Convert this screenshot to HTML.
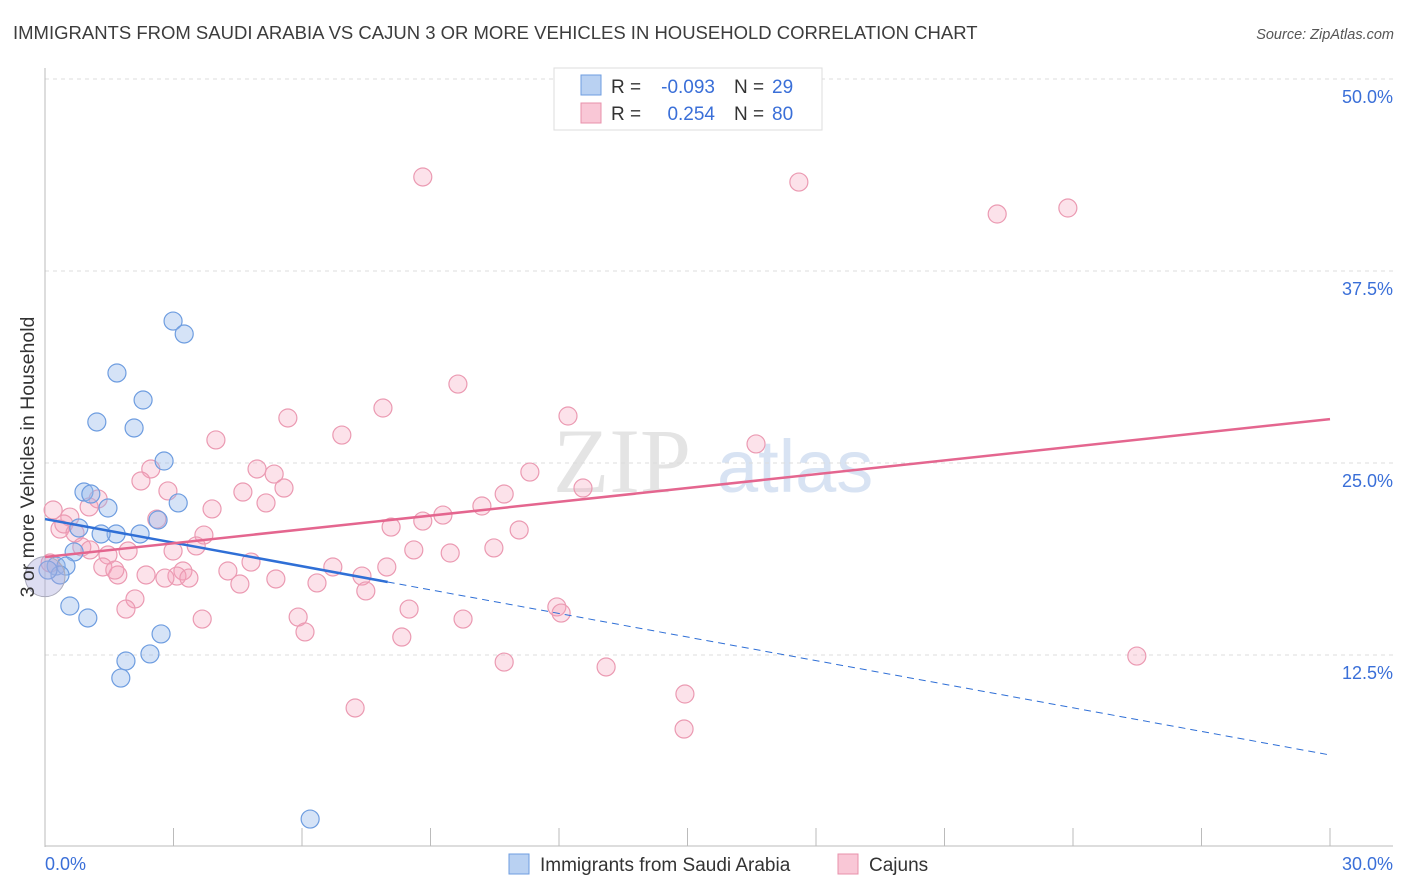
<!DOCTYPE html>
<html><head><meta charset="utf-8"><style>
body{margin:0;background:#fff;font-family:"Liberation Sans",sans-serif}
svg{display:block}
</style></head><body>
<svg id="c" width="1406" height="892" xmlns="http://www.w3.org/2000/svg">
<text x="13" y="39" font-size="18.5" fill="#3c3c3c">IMMIGRANTS FROM SAUDI ARABIA VS CAJUN 3 OR MORE VEHICLES IN HOUSEHOLD CORRELATION CHART</text>
<text x="1394" y="39" font-size="14.5" fill="#555" text-anchor="end" font-style="italic">Source: ZipAtlas.com</text>
<text x="553" y="492" font-size="92" font-family="Liberation Serif,serif" fill="#e4e4e4">ZIP</text>
<text x="717" y="492" font-size="74" fill="#d8e3f3">atlas</text>
<g id="grid"></g><g id="axes"></g><g id="pts"></g><g id="lines"></g>
<text transform="translate(34,457) rotate(-90)" font-size="19.5" fill="#333" text-anchor="middle">3 or more Vehicles in Household</text>
<g>
<rect x="554" y="68" width="268" height="62" fill="#fff" stroke="#ddd"/>
<rect x="581" y="75" width="20" height="20" fill="#b9d1f2" stroke="#6e9de0"/>
<rect x="581" y="103" width="20" height="20" fill="#f9c7d6" stroke="#e890ab"/>
<text x="611" y="93" font-size="19" fill="#333">R =</text>
<text x="715" y="93" font-size="19" fill="#3a6fd8" text-anchor="end">-0.093</text>
<text x="734" y="93" font-size="19" fill="#333">N =</text>
<text x="772" y="93" font-size="19" fill="#3a6fd8">29</text>
<text x="611" y="120" font-size="19" fill="#333">R =</text>
<text x="715" y="120" font-size="19" fill="#3a6fd8" text-anchor="end">0.254</text>
<text x="734" y="120" font-size="19" fill="#333">N =</text>
<text x="772" y="120" font-size="19" fill="#3a6fd8">80</text>
</g>
<g>
<rect x="509" y="854" width="20" height="20" fill="#b9d1f2" stroke="#6e9de0"/>
<text x="540" y="871" font-size="19" fill="#333">Immigrants from Saudi Arabia</text>
<rect x="838" y="854" width="20" height="20" fill="#f9c7d6" stroke="#e890ab"/>
<text x="869" y="871" font-size="19" fill="#333">Cajuns</text>
</g>
</svg>
<script>
const yTicks=[12.5,25,37.5,50];
const yTickLabels=["12.5%","25.0%","37.5%","50.0%"];
const xLabels=["0.0%","30.0%"];
const blueX=[2.99,3.25,1.68,2.29,1.21,2.08,2.78,0.91,1.07,1.47,3.11,2.64,0.79,1.66,1.31,2.22,0.68,0.26,0.49,0.35,0.07,0.58,1.00,2.71,2.45,1.89,1.77,6.19];
const blueY=[34.24,33.40,30.86,29.10,27.67,27.28,25.13,23.11,22.98,22.07,22.40,21.29,20.77,20.38,20.38,20.38,19.21,18.29,18.29,17.71,18.03,15.69,14.91,13.87,12.57,12.11,11.00,1.82];
const bigBlue=[0.0,17.6];
const pinkX=[8.82,17.60,22.23,23.88,9.64,7.89,12.21,5.67,6.93,3.99,16.60,2.47,11.32,4.95,5.35,2.24,2.87,4.62,5.58,12.56,10.72,1.24,5.16,3.90,10.20,0.19,1.03,0.58,2.61,9.29,8.82,8.08,11.07,0.35,0.44,3.71,0.70,0.86,3.53,10.48,8.61,9.46,2.99,1.94,1.47,1.05,4.81,6.72,7.98,7.40,4.27,3.22,1.35,1.70,2.36,3.08,2.80,3.36,5.39,1.63,4.55,6.35,7.49,2.10,1.89,8.50,5.91,11.95,12.05,3.67,9.76,6.07,8.33,10.72,13.10,25.49,14.94,7.24,14.92,0.12];
const pinkY=[43.62,43.29,41.21,41.60,30.14,28.58,28.06,27.93,26.82,26.50,26.24,24.61,24.41,24.61,24.28,23.83,23.18,23.11,23.37,23.37,22.98,22.66,22.40,22.01,22.20,21.94,22.14,21.48,21.35,21.61,21.22,20.83,20.64,20.70,21.03,20.31,20.44,19.53,19.60,19.47,19.34,19.14,19.27,19.27,19.01,19.34,18.55,18.23,18.23,17.64,17.97,17.97,18.23,17.71,17.71,17.64,17.51,17.51,17.45,18.03,17.12,17.19,16.67,16.15,15.49,15.49,14.97,15.63,15.23,14.84,14.84,14.00,13.67,12.04,11.72,12.43,9.96,9.05,7.68,18.49];
const blueTrend=[21.35,5.99], blueSolidEnd=8.0;
const pinkTrend=[18.88,27.86];
const NS='http://www.w3.org/2000/svg';
const sx=v=>45+v/30*1285, sy=v=>847-v*15.36;
function mk(tag,attrs,parent){const e=document.createElementNS(NS,tag);for(const k in attrs)e.setAttribute(k,attrs[k]);document.getElementById(parent).appendChild(e);return e;}
yTicks.forEach((t,i)=>{
 const g=mk('line',{x1:45,x2:1393,y1:sy(t),y2:sy(t),stroke:'#dcdcdc','stroke-dasharray':'4,4'},'grid');
 
 
 const l=mk('text',{x:1393,y:sy(t)+24,'font-size':18,fill:'#3a6fd8','text-anchor':'end'},'grid');
 l.textContent=yTickLabels[i];
 
 
});
const ax=mk('line',{x1:45,x2:45,y1:68,y2:847,stroke:'#bbb'},'axes');


const bx=mk('line',{x1:45,x2:1393,y1:846,y2:846,stroke:'#bbb'},'axes');


for(let i=1;i<=10;i++){
 const t=mk('line',{x1:sx(i*3),x2:sx(i*3),y1:828,y2:846,stroke:'#bbb'},'axes');
 
 
}
[[0,'start',45],[30,'end',1393]].forEach((a,i)=>{
 const t=mk('text',{x:a[2],y:870,'font-size':18,fill:'#3a6fd8','text-anchor':a[1]},'axes');
 t.textContent=xLabels[i];
 
 
});
pinkX.forEach((x,i)=>{
 const c=mk('circle',{cx:sx(x),cy:sy(pinkY[i]),r:9,fill:'rgba(244,160,185,0.3)',stroke:'#eb9ab2','stroke-width':1.2},'pts');
 
 
});
blueX.forEach((x,i)=>{
 const c=mk('circle',{cx:sx(x),cy:sy(blueY[i]),r:9,fill:'rgba(150,185,235,0.4)',stroke:'#6e9de0','stroke-width':1.2},'pts');
 
 
});
const bb=mk('circle',{cx:sx(bigBlue[0]),cy:sy(bigBlue[1]),r:20,fill:'rgba(170,170,220,0.4)',stroke:'#aab','stroke-width':1},'pts');


const by=x=>blueTrend[0]+(blueTrend[1]-blueTrend[0])*x/30;
const l1=mk('line',{x1:sx(0),y1:sy(blueTrend[0]),x2:sx(blueSolidEnd),y2:sy(by(blueSolidEnd)),stroke:'#2f6fd6','stroke-width':2.5},'lines');


const l2=mk('line',{x1:sx(blueSolidEnd),y1:sy(by(blueSolidEnd)),x2:sx(30),y2:sy(blueTrend[1]),stroke:'#2f6fd6','stroke-width':1,'stroke-dasharray':'7,5'},'lines');


const l3=mk('line',{x1:sx(0),y1:sy(pinkTrend[0]),x2:sx(30),y2:sy(pinkTrend[1]),stroke:'#e4668f','stroke-width':2.5},'lines');


</script>
</body></html>
